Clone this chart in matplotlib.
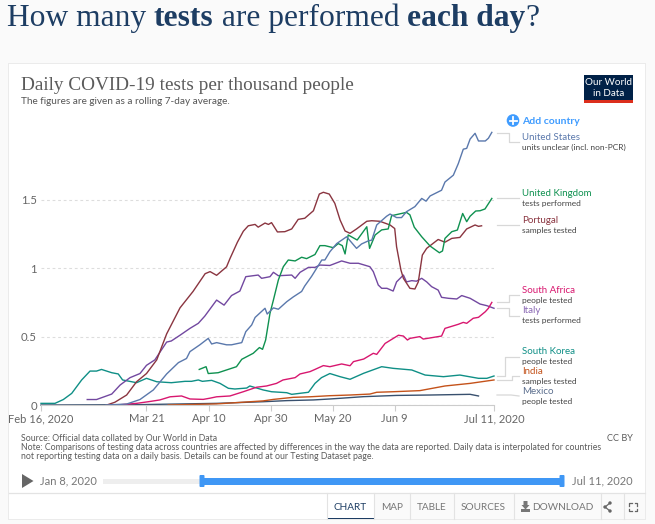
import matplotlib
matplotlib.use("Agg")
import matplotlib.pyplot as plt
from matplotlib.patches import Rectangle, Circle, Polygon, FancyBboxPatch

# days since Feb 16 2020, values are tests per thousand people
tick_days = [0, 34, 54, 74, 94, 114, 146]
tick_labels = ["Feb 16, 2020", "Mar 21", "Apr 10", "Apr 30", "May 20", "Jun 9", "Jul 11, 2020"]
y_ticks = [0, 0.5, 1, 1.5]
y_labels = ["0", "0.5", "1", "1.5"]

us_days = [21, 27.6, 31.9, 36.2, 40.5, 44.3, 46.9, 48, 51.2, 53.9, 55, 56.6, 59.8, 61.4, 64.7, 66, 67.9, 69, 72.2, 72.9, 74.9, 76.5, 79.2, 81.3, 84, 85, 87.2, 90.5, 91.5, 93.1, 95.3, 98.5, 101.7, 103.3, 105.5, 106.6, 108.2, 111.4, 112.5, 114.6, 116.2, 117.8, 120.5, 122.7, 124.1, 125.4, 129.1, 130.2, 132.9, 134.5, 136.1, 137.2, 138.3, 139.9, 141, 143.2, 144.2, 145.3]
us_vals = [0, 0.007, 0.04, 0.11, 0.227, 0.31, 0.34, 0.39, 0.44, 0.487, 0.446, 0.456, 0.44, 0.44, 0.456, 0.536, 0.585, 0.64, 0.707, 0.665, 0.71, 0.70, 0.755, 0.79, 0.83, 0.87, 0.94, 1.06, 1.06, 1.12, 1.18, 1.23, 1.145, 1.177, 1.20, 1.205, 1.316, 1.38, 1.396, 1.37, 1.37, 1.413, 1.45, 1.51, 1.49, 1.528, 1.57, 1.63, 1.68, 1.765, 1.87, 1.876, 1.944, 1.986, 1.93, 1.93, 1.95, 1.993]

uk_days = [51, 53.2, 53.9, 57.1, 63, 64.7, 68.4, 70.4, 71.4, 72.4, 73.8, 74.9, 76.5, 78.1, 79.7, 81.9, 84, 85.6, 88.3, 89.9, 91.5, 94.2, 95.8, 97.1, 98, 99, 101.9, 105, 105.9, 107.7, 109.8, 111.9, 113, 116.2, 117.8, 118.9, 120.3, 122.7, 125.4, 128.4, 129.4, 130.2, 132.4, 134.2, 135.9, 137.2, 138.3, 140.1, 141.5, 143.1, 145.3]
uk_vals = [0.26, 0.28, 0.23, 0.236, 0.28, 0.334, 0.378, 0.42, 0.407, 0.475, 0.67, 0.767, 0.914, 1.011, 1.06, 1.053, 1.08, 1.07, 1.10, 1.165, 1.165, 1.15, 1.18, 1.165, 1.104, 1.243, 1.206, 1.303, 1.145, 1.243, 1.28, 1.287, 1.384, 1.40, 1.408, 1.39, 1.30, 1.23, 1.162, 1.113, 1.126, 1.218, 1.267, 1.279, 1.40, 1.34, 1.38, 1.418, 1.42, 1.433, 1.51]

pt_days = [21.2, 23.8, 27.6, 30.8, 34, 37.3, 40.5, 44.8, 49, 52.9, 54.5, 56.6, 59.8, 60.9, 63.3, 65.2, 66.8, 69, 70, 72.2, 73.3, 74.3, 76.2, 78.6, 80.8, 82.9, 85, 87.8, 89.7, 91, 92.9, 94.7, 96.4, 98, 99.6, 101.7, 105, 106.6, 109.2, 112.5, 114, 114.6, 116, 116.8, 118.9, 120.5, 121.6, 122.9, 124.3, 128, 130.2, 132.4, 135, 137.2, 139.9, 141, 142]
pt_vals = [0, 0.02, 0.073, 0.17, 0.23, 0.33, 0.52, 0.71, 0.83, 0.96, 0.975, 0.948, 1.01, 1.07, 1.19, 1.27, 1.31, 1.32, 1.30, 1.33, 1.32, 1.333, 1.265, 1.267, 1.287, 1.357, 1.365, 1.42, 1.542, 1.555, 1.542, 1.474, 1.352, 1.272, 1.255, 1.287, 1.343, 1.347, 1.343, 1.316, 1.29, 1.157, 0.987, 0.926, 0.853, 0.848, 0.90, 1.096, 1.145, 1.21, 1.19, 1.218, 1.225, 1.287, 1.316, 1.306, 1.31]

za_days = [24.4, 30.8, 34.6, 38.3, 41.6, 45.3, 48, 52.3, 54.5, 56.6, 60.9, 65.2, 69.5, 72.7, 75.9, 78, 81.9, 83.5, 86.7, 88.3, 91, 93.1, 96.9, 99.6, 100.7, 104, 107.1, 108.2, 110.9, 115.2, 116.8, 118.1, 118.9, 122.1, 123.2, 129.1, 130.2, 134.5, 136.1, 137.2, 139.3, 141, 143.2, 144.2, 145.3]
za_vals = [0, 0.012, 0.024, 0.037, 0.06, 0.066, 0.044, 0.041, 0.05, 0.06, 0.066, 0.097, 0.13, 0.139, 0.158, 0.183, 0.20, 0.227, 0.244, 0.26, 0.288, 0.28, 0.30, 0.287, 0.317, 0.336, 0.378, 0.37, 0.45, 0.51, 0.504, 0.475, 0.487, 0.50, 0.482, 0.504, 0.56, 0.59, 0.604, 0.597, 0.634, 0.641, 0.682, 0.707, 0.75]

it_days = [14.9, 17.9, 22.8, 25.5, 28.7, 31.9, 34, 36.7, 40.5, 42, 44.8, 48, 50.7, 52.8, 56.6, 59, 61.4, 64.1, 66, 70, 71.1, 73.8, 74.9, 76.5, 80.8, 81.9, 83.5, 86.2, 88.3, 89.9, 93.1, 96.9, 99.6, 102.3, 106, 107.1, 108.7, 109.8, 111.5, 113.5, 114.6, 116.8, 117.8, 119.5, 121, 122.7, 124.3, 125.9, 128, 129.1, 131.3, 134, 135.6, 138.3, 141.5, 143.7, 146]
it_vals = [0.04, 0.04, 0.08, 0.146, 0.20, 0.23, 0.29, 0.33, 0.46, 0.468, 0.51, 0.56, 0.597, 0.65, 0.767, 0.73, 0.80, 0.833, 0.938, 0.95, 0.926, 0.938, 0.97, 0.945, 0.95, 0.926, 0.97, 1.006, 1.006, 1.023, 1.02, 1.053, 1.036, 1.036, 1.011, 0.975, 0.877, 0.853, 0.853, 0.833, 0.90, 0.95, 0.90, 0.909, 0.905, 0.926, 0.90, 0.865, 0.84, 0.787, 0.78, 0.775, 0.80, 0.78, 0.738, 0.726, 0.707]

kr_days = [0, 4.5, 7.2, 9.9, 13.1, 15.8, 17.9, 19.5, 22.8, 24.9, 26.3, 30.8, 34, 37.3, 42, 46.4, 48.5, 50.7, 52, 55, 57.7, 60.4, 62.5, 66.3, 67.3, 71.6, 74.3, 79.2, 80.8, 86.2, 88.3, 90.4, 93.1, 96.4, 99.6, 104, 109.8, 113.5, 119.5, 123.8, 129.7, 135, 141, 143.7, 146]
kr_vals = [0.012, 0.012, 0.04, 0.085, 0.183, 0.248, 0.248, 0.26, 0.236, 0.227, 0.183, 0.163, 0.195, 0.17, 0.163, 0.173, 0.173, 0.183, 0.173, 0.18, 0.158, 0.122, 0.117, 0.124, 0.139, 0.11, 0.097, 0.09, 0.078, 0.093, 0.158, 0.20, 0.23, 0.207, 0.188, 0.232, 0.28, 0.268, 0.256, 0.219, 0.207, 0.219, 0.195, 0.195, 0.212]

in_days = [41, 56.6, 71.6, 74.9, 81.3, 86.7, 93.1, 99.6, 106, 108.2, 113.5, 122.1, 130.2, 138.3, 146]
in_vals = [0, 0.008, 0.03, 0.041, 0.056, 0.06, 0.068, 0.073, 0.08, 0.093, 0.097, 0.105, 0.139, 0.158, 0.183]

mx_days = [0, 30, 56.6, 71.6, 79.2, 87.8, 93.1, 96.4, 104, 114.6, 125.4, 138.3, 141]
mx_vals = [0, 0.002, 0.012, 0.024, 0.032, 0.037, 0.044, 0.049, 0.061, 0.07, 0.073, 0.078, 0.066]

series = [
    (mx_days, mx_vals, "#38506e"),
    (in_days, in_vals, "#c4521a"),
    (kr_days, kr_vals, "#0f8f86"),
    (it_days, it_vals, "#7248a0"),
    (za_days, za_vals, "#d8176f"),
    (pt_days, pt_vals, "#8a3540"),
    (uk_days, uk_vals, "#0f9150"),
    (us_days, us_vals, "#5a78ac"),
]

W, H = 655, 524
plt.rcParams["font.family"] = ["Lato", "DejaVu Sans"]
fig = plt.figure(figsize=(W / 100, H / 100), dpi=100, facecolor="#fafafa")

# pixel-coordinate layer for the page and the card furniture
bg = fig.add_axes([0, 0, 1, 1], zorder=0)
bg.set_xlim(0, W)
bg.set_ylim(H, 0)
bg.axis("off")

# card
bg.add_patch(Rectangle((8, 63), 638, 457, fc="#ebebeb", ec="none"))
bg.add_patch(Rectangle((9, 64), 636, 455, fc="white", ec="none"))

# page heading, pieces placed one after another
serif = ["Liberation Serif", "DejaVu Serif"]
cursor = 7
rend = fig.canvas.get_renderer()
for piece, weight in [("How many ", "normal"), ("tests", "bold"), (" are performed ", "normal"),
                      ("each day", "bold"), ("?", "normal")]:
    t = bg.text(cursor, 26, piece.replace(" ", "\u00a0"), family=serif, fontsize=22.7, weight=weight,
                color="#1d3d63", va="baseline", ha="left")
    cursor = bg.transData.inverted().transform(t.get_window_extent(rend))[1][0]

bg.text(21, 90, "Daily COVID-19 tests per thousand people", family=serif, fontsize=13.9, color="#5b5b5b", va="baseline")
bg.text(21, 101.5, "The figures are given as a rolling 7-day average.", fontsize=7.2, color="#555555", va="center")

# logo
bg.add_patch(Rectangle((584, 75), 49, 28, fc="#002147", ec="none"))
bg.add_patch(Rectangle((584, 100), 49, 3, fc="#dc2e1c", ec="none"))
bg.text(608.5, 82.5, "Our World", color="white", fontsize=7.1, ha="center", va="center")
bg.text(608.5, 93, "in Data", color="white", fontsize=7.1, ha="center", va="center")

# add country
bg.add_patch(Circle((513, 120.5), 6.3, fc="#3f9cff", ec="none"))
bg.plot([509.5, 516.5], [120.5, 120.5], color="white", lw=1.3)
bg.plot([513, 513], [117, 124], color="white", lw=1.3)
bg.text(522, 121.5, "Add country", color="#3f9cff", fontsize=7.5, weight="bold", va="center")

# legend labels: name, detail, colour, name y, connector
entries = [
    ("United States", "units unclear (incl. non-PCR)", "#5a78ac", 137.7, [(497, 132.7), (509, 132.7), (509, 142.3), (519, 142.3)]),
    ("United Kingdom", "tests performed", "#0f9150", 193.7, [(497, 198.3), (519, 198.3)]),
    ("Portugal", "samples tested", "#8a3540", 220.7, [(497, 225), (519, 225)]),
    ("South Africa", "people tested", "#d8176f", 290.7, [(497, 302.3), (509, 302.3), (509, 295), (519, 295)]),
    ("Italy", "tests performed", "#8a68b4", 310.7, [(497, 308.3), (509, 308.3), (509, 315.7), (519, 315.7)]),
    ("South Korea", "people tested", "#0f8f86", 351.7, [(497, 376), (505, 376), (505, 356.7), (519, 356.7)]),
    ("India", "samples tested", "#c4521a", 371.7, [(497, 380.3), (511.7, 380.3), (511.7, 376), (519, 376)]),
    ("Mexico", "people tested", "#5c6f8e", 391.7, [(497, 395), (511, 395), (519, 396)]),
]
for name, detail, color, y, path in entries:
    bg.text(522, y, name, color=color, fontsize=7.05, va="center")
    bg.text(522, y + 9.5, detail, color="#444444", fontsize=6.0, va="center")
    bg.plot([p[0] for p in path], [p[1] for p in path], color="#d8d8d8", lw=0.9)

# footer notes
bg.text(21, 438.5, "Source: Official data collated by Our World in Data", fontsize=6.3, color="#5b5b5b", va="center")
bg.text(21, 447.5, "Note: Comparisons of testing data across countries are affected by differences in the way the data are reported. Daily data is interpolated for countries",
        fontsize=6.3, color="#5b5b5b", va="center")
bg.text(21, 456.5, "not reporting testing data on a daily basis. Details can be found at our Testing Dataset page.",
        fontsize=6.3, color="#5b5b5b", va="center")
bg.text(633, 438.5, "CC BY", fontsize=6.6, color="#5b5b5b", va="center", ha="right")

# timeline
bg.add_patch(Polygon([(22, 474), (33.5, 481), (22, 488)], closed=True, fc="#666666", ec="none"))
bg.text(40, 481, "Jan 8, 2020", fontsize=8, color="#777777", va="center")
bg.add_patch(Rectangle((103, 478.5), 99, 5, fc="#eeeeee", ec="none"))
bg.add_patch(Rectangle((202, 477.5), 360, 7, fc="#3f97f5", ec="none"))
for hx in [199.5, 559.5]:
    bg.add_patch(FancyBboxPatch((hx + 1, 476), 3, 10, boxstyle="round,pad=1", fc="#3f97f5", ec="none"))
bg.text(633, 481, "Jul 11, 2020", fontsize=8, color="#777777", va="center", ha="right")

# tab bar
bg.add_patch(Rectangle((374, 493), 271, 26, fc="#fafafa", ec="none"))
bg.plot([9, 645], [493, 493], color="#e3e3e3", lw=0.9)
for sx in [327, 374, 410, 453.5, 513.5, 601, 624]:
    bg.plot([sx, sx], [493, 519], color="#e3e3e3", lw=0.8)
bg.add_patch(Rectangle((327, 517.5), 47, 1.6, fc="#1d3d63", ec="none"))
bg.text(350.5, 507, "CHART", fontsize=7.2, color="#1d3d63", ha="center", va="center")
for label, cx in [("MAP", 392), ("TABLE", 431.5), ("SOURCES", 483.5), ("DOWNLOAD", 563)]:
    bg.text(cx, 507, label, fontsize=7.2, color="#777777", ha="center", va="center")

# download, share and expand glyphs
bg.add_patch(Rectangle((521, 509), 9, 2.5, fc="#777777", ec="none"))
bg.add_patch(Polygon([(523.5, 501), (527.5, 501), (527.5, 505), (529.5, 505), (525.5, 509.5), (521.5, 505), (523.5, 505)],
                     closed=True, fc="#777777", ec="none"))
bg.plot([610, 605, 610], [503, 507, 511], color="#666666", lw=0.9)
for py, px in [(503, 610), (507, 605), (511, 610)]:
    bg.add_patch(Circle((px, py), 1.7, fc="#666666", ec="none"))
for cx, cy, dx, dy in [(629, 503, 1, 1), (637, 503, -1, 1), (629, 511, 1, -1), (637, 511, -1, -1)]:
    bg.plot([cx + 2.5 * dx, cx, cx], [cy, cy, cy + 2.5 * dy], color="#666666", lw=0.9)

# the chart itself
ax = fig.add_axes([41 / W, 1 - 405 / H, 453 / W, 273.6 / H], zorder=1)
ax.patch.set_alpha(0)
for days, vals, color in series:
    ax.plot(days, vals, color=color, lw=1.0, solid_joinstyle="round", clip_on=False)

ax.set_xlim(0, 146)
ax.set_ylim(0, 2)
ax.set_xticks(tick_days)
ax.set_xticklabels(tick_labels)
ax.set_yticks(y_ticks)
ax.set_yticklabels(y_labels)
ax.yaxis.grid(True, color="#dddddd", lw=0.8, ls=(0, (2.5, 2.5)))
ax.set_axisbelow(True)
for side in ["top", "right", "left"]:
    ax.spines[side].set_visible(False)
ax.spines["bottom"].set_color("#cccccc")
ax.tick_params(axis="x", length=4, width=0.8, color="#cccccc", labelsize=8.0, labelcolor="#666666", pad=2)
ax.tick_params(axis="y", length=0, labelsize=8.2, labelcolor="#666666", pad=3)

fig.savefig("out.png", dpi=100, facecolor=fig.get_facecolor())
